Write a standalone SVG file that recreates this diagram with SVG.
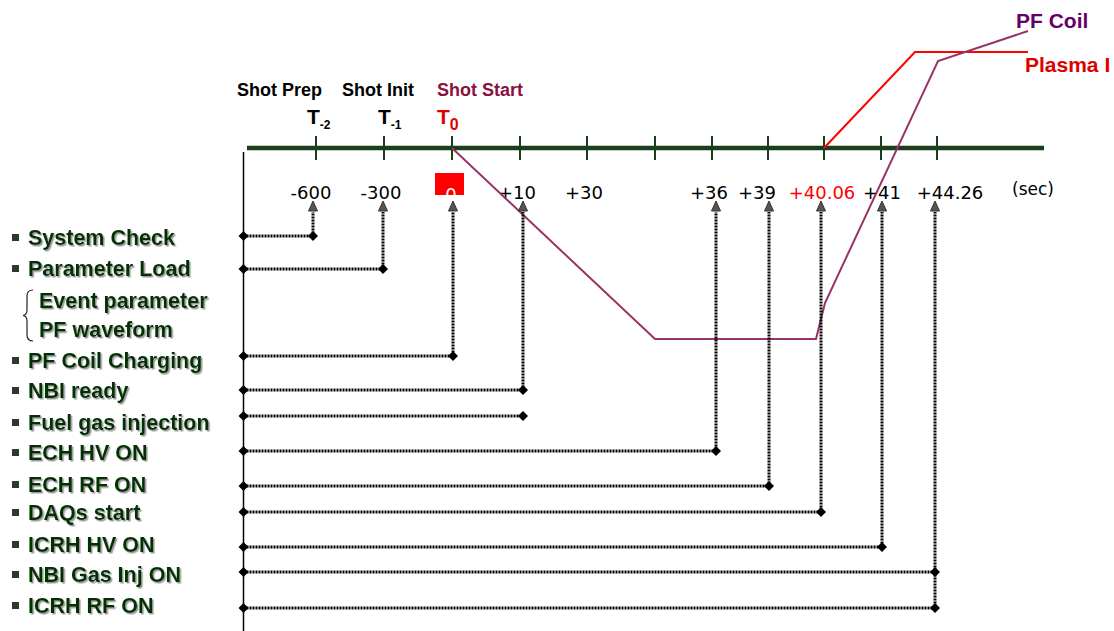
<svg xmlns="http://www.w3.org/2000/svg" width="1114" height="631" viewBox="0 0 1114 631">
<style>
.lbl{font-family:"Liberation Sans",Arial,sans-serif;font-weight:bold;font-size:21.5px;fill:#003300;filter:url(#sh)}
.hdr{font-family:"Liberation Sans",Arial,sans-serif;font-weight:bold;font-size:18px}
.big{font-size:21px}
.num{font-family:"DejaVu Sans",Verdana,sans-serif;font-size:18px;fill:#000;text-anchor:middle}
.tick{stroke:#1a3d1a;stroke-width:2}
.dot{fill:none;stroke:#000;stroke-width:3;stroke-dasharray:2 1}
.bul{fill:#2b3a2b}
.tri{fill:#555;stroke:#333;stroke-width:1}
</style>
<defs>
<filter id="sh" x="-5%" y="-20%" width="115%" height="150%">
<feDropShadow dx="1.5" dy="1.5" stdDeviation="0.6" flood-color="#9a9a9a" flood-opacity="1"/>
</filter>
<marker id="dia" viewBox="-6 -6 12 12" markerWidth="12" markerHeight="12" markerUnits="userSpaceOnUse" refX="0" refY="0">
<path d="M0,-5 L5,0 L0,5 L-5,0 Z" fill="#000"/>
</marker>
<path id="tr" d="M-4.5,10 L0,0 L4.5,10 Z"/>
</defs>

<!-- time axis -->
<g id="axis">
<line x1="247" y1="148" x2="1044" y2="148" stroke="#1a3d1a" stroke-width="4.5"/>
<line class="tick" x1="316" y1="136" x2="316" y2="160"/>
<line class="tick" x1="384" y1="136" x2="384" y2="160"/>
<line class="tick" x1="452" y1="136" x2="452" y2="160"/>
<line class="tick" x1="520" y1="136" x2="520" y2="160"/>
<line class="tick" x1="587" y1="136" x2="587" y2="160"/>
<line class="tick" x1="655" y1="136" x2="655" y2="160"/>
<line class="tick" x1="712" y1="136" x2="712" y2="160"/>
<line class="tick" x1="768" y1="136" x2="768" y2="160"/>
<line class="tick" x1="824" y1="136" x2="824" y2="160"/>
<line class="tick" x1="881" y1="136" x2="881" y2="160"/>
<line class="tick" x1="937" y1="136" x2="937" y2="160"/>
<line x1="243.5" y1="152" x2="243.5" y2="631" stroke="#000" stroke-width="1.5"/>
</g>

<!-- header labels -->
<g id="headers">
<text class="hdr" x="237" y="96" fill="#000">Shot Prep</text>
<text class="hdr" x="342" y="96" fill="#000">Shot Init</text>
<text class="hdr" x="437" y="96" fill="#8b1040">Shot Start</text>
<text class="hdr big" x="307" y="124" fill="#000">T<tspan style="font-size:12px" dy="5">-2</tspan></text>
<text class="hdr big" x="378" y="124" fill="#000">T<tspan style="font-size:12px" dy="5">-1</tspan></text>
<text class="hdr big" x="437" y="124" fill="#e00000">T<tspan style="font-size:16px" dy="6">0</tspan></text>
</g>

<!-- time values -->
<g id="values">
<text class="num" x="311" y="199">-600</text>
<text class="num" x="381" y="199">-300</text>
<rect x="435" y="173" width="29" height="22" fill="#ff0000"/>
<text class="num" x="451" y="201" style="fill:#fff">0</text>
<text class="num" x="517" y="199">+10</text>
<text class="num" x="584" y="199">+30</text>
<text class="num" x="709" y="199">+36</text>
<text class="num" x="757" y="199">+39</text>
<text class="num" x="822" y="199" style="fill:#ff0000">+40.06</text>
<text class="num" x="882" y="199">+41</text>
<text class="num" x="950" y="199">+44.26</text>
<text class="num" x="1033" y="195" style="font-size:17px">(sec)</text>
</g>

<!-- waveforms -->
<g id="waveforms">
<polyline points="824,148 915,52 1028,52" fill="none" stroke="#ff0000" stroke-width="2"/>
<polyline points="452,148 655,339 816,339 825,303 938,61 1028,31" fill="none" stroke="#993366" stroke-width="2"/>
<text class="hdr big" x="1016" y="28" fill="#660066">PF Coil</text>
<text class="hdr big" x="1025" y="72" fill="#dd0000">Plasma I</text>
</g>

<!-- connectors -->
<g id="connectors">
<polyline class="dot" points="243.5,236 313,236 313,212" marker-start="url(#dia)" marker-mid="url(#dia)"/>
<polyline class="dot" points="243.5,269 383,269 383,212" marker-start="url(#dia)" marker-mid="url(#dia)"/>
<polyline class="dot" points="243.5,356 453,356 453,212" marker-start="url(#dia)" marker-mid="url(#dia)"/>
<polyline class="dot" points="243.5,390 523,390 523,212" marker-start="url(#dia)" marker-mid="url(#dia)"/>
<polyline class="dot" points="243.5,416 523,416" marker-start="url(#dia)" marker-end="url(#dia)"/>
<polyline class="dot" points="243.5,451 716,451 716,212" marker-start="url(#dia)" marker-mid="url(#dia)"/>
<polyline class="dot" points="243.5,486 769,486 769,212" marker-start="url(#dia)" marker-mid="url(#dia)"/>
<polyline class="dot" points="243.5,512 821,512 821,212" marker-start="url(#dia)" marker-mid="url(#dia)"/>
<polyline class="dot" points="243.5,547 882,547 882,212" marker-start="url(#dia)" marker-mid="url(#dia)"/>
<polyline class="dot" points="243.5,572 935,572" marker-start="url(#dia)" marker-end="url(#dia)"/>
<polyline class="dot" points="243.5,608 935,608 935,212" marker-start="url(#dia)" marker-mid="url(#dia)"/>
<use href="#tr" class="tri" x="313" y="201"/>
<use href="#tr" class="tri" x="383" y="201"/>
<use href="#tr" class="tri" x="453" y="201"/>
<use href="#tr" class="tri" x="523" y="201"/>
<use href="#tr" class="tri" x="716" y="201"/>
<use href="#tr" class="tri" x="769" y="201"/>
<use href="#tr" class="tri" x="821" y="201"/>
<use href="#tr" class="tri" x="882" y="201"/>
<use href="#tr" class="tri" x="935" y="201"/>
</g>

<!-- event labels -->
<g id="n-system-check"><rect class="bul" x="12" y="234" width="7" height="7"/><text class="lbl" x="28" y="245">System Check</text></g>
<g id="n-parameter-load"><rect class="bul" x="12" y="265" width="7" height="7"/><text class="lbl" x="28" y="276">Parameter Load</text></g>
<g id="n-param-sub">
<path d="M33,290 Q27,290 27,296 L27,310 Q27,315 23,315.5 Q27,316 27,321 L27,335 Q27,341 33,341" fill="none" stroke="#222" stroke-width="1.2"/>
<text class="lbl" x="39" y="308">Event parameter</text>
<text class="lbl" x="39" y="337">PF waveform</text>
</g>
<g id="n-pf-coil-charging"><rect class="bul" x="12" y="357" width="7" height="7"/><text class="lbl" x="28" y="368">PF Coil Charging</text></g>
<g id="n-nbi-ready"><rect class="bul" x="12" y="387" width="7" height="7"/><text class="lbl" x="28" y="398">NBI ready</text></g>
<g id="n-fuel-gas"><rect class="bul" x="12" y="419" width="7" height="7"/><text class="lbl" x="28" y="430">Fuel gas injection</text></g>
<g id="n-ech-hv"><rect class="bul" x="12" y="449" width="7" height="7"/><text class="lbl" x="28" y="460">ECH HV ON</text></g>
<g id="n-ech-rf"><rect class="bul" x="12" y="481" width="7" height="7"/><text class="lbl" x="28" y="492">ECH RF ON</text></g>
<g id="n-daqs"><rect class="bul" x="12" y="509" width="7" height="7"/><text class="lbl" x="28" y="520">DAQs start</text></g>
<g id="n-icrh-hv"><rect class="bul" x="12" y="541" width="7" height="7"/><text class="lbl" x="28" y="552">ICRH HV ON</text></g>
<g id="n-nbi-gas"><rect class="bul" x="12" y="571" width="7" height="7"/><text class="lbl" x="28" y="582">NBI Gas Inj ON</text></g>
<g id="n-icrh-rf"><rect class="bul" x="12" y="602" width="7" height="7"/><text class="lbl" x="28" y="613">ICRH RF ON</text></g>
</svg>
